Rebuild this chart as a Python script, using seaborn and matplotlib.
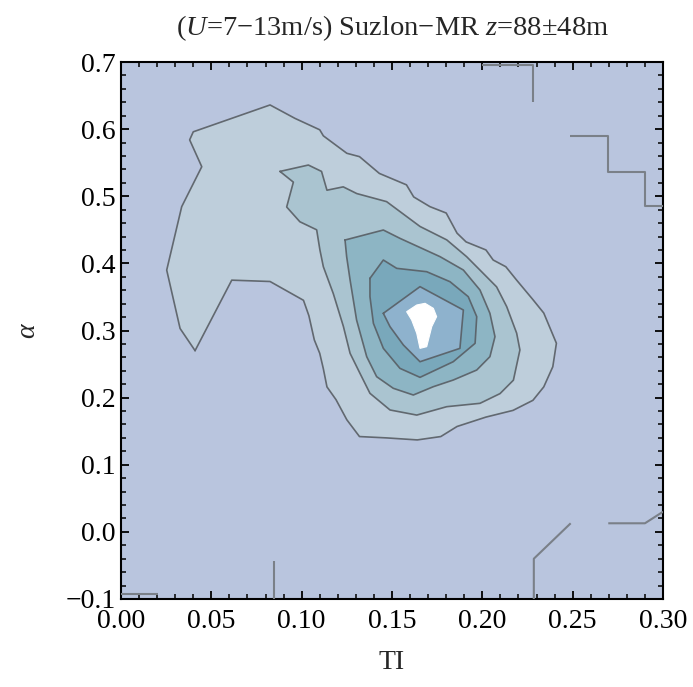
import matplotlib
matplotlib.use("Agg")
import matplotlib.pyplot as plt
from matplotlib.ticker import MultipleLocator, FixedLocator, FuncFormatter
import seaborn as sns

sns.set_theme(style="ticks")
plt.rcParams["font.family"] = ["Liberation Serif", "DejaVu Serif"]
plt.rcParams["mathtext.fontset"] = "custom"
plt.rcParams["mathtext.rm"] = "Liberation Serif"
plt.rcParams["mathtext.it"] = "Liberation Serif:italic"

# ---- joint frequency of turbulence intensity (TI) and shear exponent (alpha) ----
# closed contour outlines, lowest level first
lvl1_ti = [0.041, 0.0327, 0.0253, 0.0336, 0.0447, 0.038, 0.040, 0.0825, 0.0963, 0.110,
           0.112, 0.125, 0.132, 0.143, 0.158, 0.162, 0.171, 0.180, 0.186, 0.191, 0.202,
           0.206, 0.213, 0.219, 0.228, 0.234, 0.241, 0.239, 0.234, 0.228, 0.217, 0.202,
           0.186, 0.177, 0.164, 0.147, 0.132, 0.125, 0.119, 0.114, 0.112, 0.110, 0.107,
           0.104, 0.101, 0.0825, 0.0613]
lvl1_alpha = [0.270, 0.303, 0.390, 0.4845, 0.544, 0.584, 0.596, 0.636, 0.616, 0.599,
              0.590, 0.564, 0.559, 0.534, 0.517, 0.499, 0.4845, 0.475, 0.445, 0.432, 0.420,
              0.405, 0.395, 0.375, 0.346, 0.326, 0.281, 0.246, 0.216, 0.196, 0.181, 0.171,
              0.157, 0.142, 0.137, 0.140, 0.142, 0.167, 0.197, 0.216, 0.243, 0.266, 0.286,
              0.322, 0.345, 0.373, 0.375]

lvl2_ti = [0.088, 0.1037, 0.111, 0.114, 0.123, 0.1305, 0.147, 0.158, 0.1655, 0.1803,
           0.1913, 0.1987, 0.2079, 0.2135, 0.219, 0.2208, 0.2172, 0.2098, 0.1987, 0.1803,
           0.1637, 0.1489, 0.1378, 0.1323, 0.1268, 0.1231, 0.1175, 0.112, 0.1101, 0.1083,
           0.099, 0.0917, 0.0954]
lvl2_alpha = [0.537, 0.5465, 0.537, 0.509, 0.514, 0.504, 0.492, 0.470, 0.455, 0.435,
              0.410, 0.390, 0.365, 0.3355, 0.296, 0.271, 0.226, 0.206, 0.1915, 0.1865,
              0.174, 0.1816, 0.2064, 0.236, 0.266, 0.306, 0.355, 0.395, 0.420, 0.450,
              0.462, 0.484, 0.521]

lvl3_ti = [0.1240, 0.1452, 0.1544, 0.1766, 0.1895, 0.1987, 0.2042, 0.2070, 0.2042, 0.1969,
           0.1839, 0.1729, 0.1618, 0.1507, 0.1415, 0.1360, 0.1304, 0.1268, 0.1249]
lvl3_alpha = [0.4348, 0.4497, 0.4373, 0.410, 0.3901, 0.3603, 0.3256, 0.2908, 0.261, 0.2411,
              0.2262, 0.2163, 0.2039, 0.2139, 0.2312, 0.261, 0.3156, 0.3752, 0.410]

lvl4_ti = [0.1378, 0.1452, 0.1526, 0.1692, 0.1821, 0.1922, 0.1969, 0.1960, 0.1839, 0.1655,
           0.1544, 0.1452, 0.1397, 0.1378]
lvl4_alpha = [0.3777, 0.405, 0.3926, 0.3876, 0.3727, 0.3504, 0.3206, 0.2809, 0.2535, 0.2302,
              0.2436, 0.2734, 0.3107, 0.3504]

lvl5_ti = [0.1452, 0.1655, 0.1895, 0.1876, 0.1655, 0.1563, 0.1489]
lvl5_alpha = [0.3256, 0.3653, 0.3305, 0.2734, 0.2535, 0.2784, 0.3057]

lvl6_ti = [0.1581, 0.1637, 0.1683, 0.1729, 0.1747, 0.1720, 0.1692, 0.1655, 0.1637, 0.1609]
lvl6_alpha = [0.328, 0.338, 0.3405, 0.333, 0.3206, 0.3057, 0.2759, 0.2734, 0.2958, 0.3156]

level_colors = ["#BECEDB", "#AAC4D0", "#8DB5C4", "#79A8BB", "#8EB2CD", "#FFFFFF"]
base_color = "#B9C5DE"

# open contour pieces of the lowest level, running into the frame
edge_top_ti = [0.200, 0.228, 0.228]
edge_top_alpha = [0.695, 0.695, 0.640]
edge_stair_ti = [0.2485, 0.2696, 0.2696, 0.290, 0.290, 0.300]
edge_stair_alpha = [0.590, 0.590, 0.536, 0.536, 0.485, 0.485]
edge_bl_ti = [0.000, 0.0205]
edge_bl_alpha = [-0.092, -0.092]
edge_bm_ti = [0.0845, 0.0845]
edge_bm_alpha = [-0.100, -0.043]
edge_br1_ti = [0.2285, 0.2285, 0.2489]
edge_br1_alpha = [-0.100, -0.040, 0.0128]
edge_br2_ti = [0.2697, 0.290, 0.300]
edge_br2_alpha = [0.0128, 0.0128, 0.030]

x_ticks = [0.00, 0.05, 0.10, 0.15, 0.20, 0.25, 0.30]
y_ticks = [-0.1, 0.0, 0.1, 0.2, 0.3, 0.4, 0.5, 0.6, 0.7]

fig = plt.figure(figsize=(6.93, 6.87), dpi=100)
ax = fig.add_axes([121 / 693, 1 - 599 / 687, 542 / 693, 537 / 687])
ax.set_facecolor(base_color)

line_kw = dict(color="#585E64", lw=1.2, alpha=0.9)
levels = [(lvl1_ti, lvl1_alpha), (lvl2_ti, lvl2_alpha), (lvl3_ti, lvl3_alpha),
          (lvl4_ti, lvl4_alpha), (lvl5_ti, lvl5_alpha)]
for (tx, ay), col in zip(levels, level_colors):
    ax.fill(tx, ay, facecolor=col, edgecolor="none", zorder=2)
    ax.plot(tx + tx[:1], ay + ay[:1], zorder=3, **line_kw)
ax.fill(lvl6_ti, lvl6_alpha, facecolor=level_colors[5], edgecolor="white", lw=0.8, zorder=4)

edge_kw = dict(color="#7A8088", lw=1.5, zorder=3, solid_capstyle="butt")
for tx, ay in [(edge_top_ti, edge_top_alpha), (edge_stair_ti, edge_stair_alpha),
               (edge_bl_ti, edge_bl_alpha), (edge_bm_ti, edge_bm_alpha),
               (edge_br1_ti, edge_br1_alpha), (edge_br2_ti, edge_br2_alpha)]:
    ax.plot(tx, ay, **edge_kw)

ax.set_xlim(0.0, 0.30)
ax.set_ylim(-0.1, 0.7)
ax.xaxis.set_major_locator(FixedLocator(x_ticks))
ax.yaxis.set_major_locator(FixedLocator(y_ticks))
ax.xaxis.set_minor_locator(MultipleLocator(0.01))
ax.yaxis.set_minor_locator(MultipleLocator(0.02))
ax.xaxis.set_major_formatter(FuncFormatter(lambda v, p: f"{v:.2f}"))
ax.yaxis.set_major_formatter(FuncFormatter(lambda v, p: f"{v:.1f}".replace("-", "\u2212")))
ax.tick_params(which="both", direction="in", top=True, right=True, colors="black",
               labelsize=20)
ax.tick_params(axis="x", which="major", pad=7)
ax.tick_params(axis="y", which="major", pad=4)
ax.tick_params(which="major", length=6, width=1.3)
ax.tick_params(which="minor", length=3.6, width=1.1)
for s in ax.spines.values():
    s.set_linewidth(1.5)
    s.set_color("black")

ax.set_xlabel("TI", fontsize=20, labelpad=12)
ax.set_ylabel("\u03b1", fontsize=20, fontstyle="italic", labelpad=18)
fig.text((121 + 663) / 2 / 693, 1 - 28 / 687,
         "($U$=7\u221213m/s) Suzlon\u2212MR $z$=88\u00b148m",
         fontsize=20.5, ha="center", va="center")

fig.savefig("out.png", dpi=100)
